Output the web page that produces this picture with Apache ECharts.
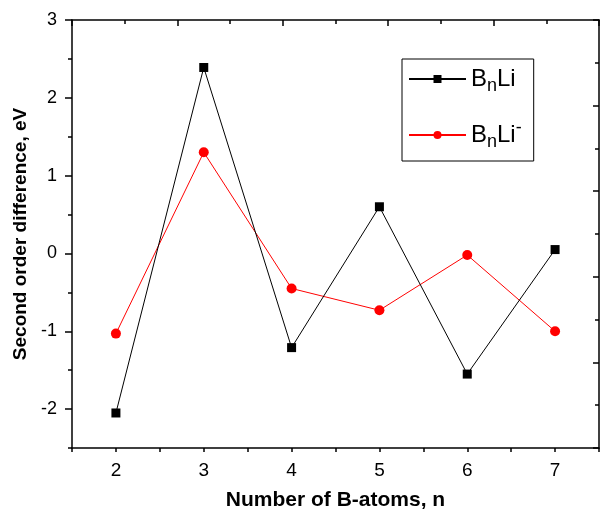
<!DOCTYPE html>
<html>
<head>
<meta charset="utf-8">
<script src="https://cdn.jsdelivr.net/npm/echarts@6/dist/echarts.min.js"></script>
<style>
  html, body { margin: 0; padding: 0; background: #fff; }
  #chart { width: 600px; height: 509px; }
</style>
</head>
<body>
<div id="chart"></div>
<script>
// data
const atoms = [2, 3, 4, 5, 6, 7];
const neutral = [-2.05, 2.39, -1.21, 0.6, -1.55, 0.05];
const anion = [-1.03, 1.3, -0.45, -0.73, -0.02, -1.0];
const xLabels = [2, 3, 4, 5, 6, 7];
const yLabels = [-2, -1, 0, 1, 2, 3];

const font = 'Liberation Sans, Arial, Helvetica, sans-serif';
const black = '#000';

const pairs = (ys) => atoms.map((n, i) => [n, ys[i]]);

const chart = echarts.init(document.getElementById('chart'));

const option = {
    animation: false,
    textStyle: { fontFamily: font },
    grid: { left: 72, right: 1, top: 20, bottom: 61, outerBoundsMode: 'none', containLabel: false },
    legend: {
        orient: 'vertical',
        left: 402,
        top: 59,
        width: 130,
        padding: [8, 12, 10, 6],
        itemGap: 24,
        itemWidth: 57,
        itemHeight: 10,
        borderColor: black,
        borderWidth: 1,
        data: ['neutral', 'anion'],
        formatter: (name) => name === 'neutral' ? 'B{sub|n}Li' : 'B{sub|n}Li{sup|-}',
        textStyle: {
            fontSize: 24,
            color: black,
            fontFamily: font,
            rich: {
                sub: { fontSize: 18, fontFamily: font, color: black, padding: [14, 0, 0, 0] },
                sup: { fontSize: 18, fontFamily: font, color: black, padding: [0, 0, 14, 0] }
            }
        }
    },
    xAxis: [
        {
            type: 'value',
            min: 1.5,
            max: 7.5,
            interval: 0.5,
            position: 'bottom',
            name: 'Number of B-atoms, n',
            nameLocation: 'middle',
            nameGap: 42,
            nameTextStyle: { fontSize: 21, fontWeight: 'bold', color: black, fontFamily: font },
            axisLine: { onZero: false, lineStyle: { color: black, width: 1.5 } },
            axisTick: { length: 4, lineStyle: { color: black, width: 1.5 } },
            axisLabel: { customValues: xLabels, fontSize: 19, color: black, margin: 13 },
            splitLine: { show: false }
        },
        {
            type: 'value',
            min: 0,
            max: 5,
            interval: 1,
            position: 'top',
            axisLine: { onZero: false, lineStyle: { color: black, width: 1.5 } },
            axisTick: { inside: true, length: 6, lineStyle: { color: black, width: 1.5 } },
            minorTick: { show: true, splitNumber: 2, length: 4, lineStyle: { color: black, width: 1.5 } },
            axisLabel: { show: false },
            splitLine: { show: false }
        }
    ],
    yAxis: [
        {
            type: 'value',
            min: -2.5,
            max: 3,
            interval: 0.5,
            position: 'left',
            name: 'Second order difference, eV',
            nameLocation: 'middle',
            nameGap: 39,
            nameTextStyle: { fontSize: 19, fontWeight: 'bold', color: black, fontFamily: font },
            axisLine: { onZero: false, lineStyle: { color: black, width: 1.5 } },
            axisTick: { customValues: yLabels, length: 7, lineStyle: { color: black, width: 1.5 } },
            axisLabel: { customValues: yLabels, fontSize: 18, color: black, margin: 15 },
            splitLine: { show: false }
        },
        {
            type: 'value',
            min: 0,
            max: 5,
            interval: 1,
            position: 'right',
            axisLine: { onZero: false, lineStyle: { color: black, width: 1.5 } },
            axisTick: { inside: true, length: 6, lineStyle: { color: black, width: 1.5 } },
            minorTick: { show: true, splitNumber: 2, length: 4, lineStyle: { color: black, width: 1.5 } },
            axisLabel: { show: false },
            splitLine: { show: false }
        },
        {
            type: 'value',
            min: -2.5,
            max: 3,
            interval: 0.5,
            position: 'left',
            axisLine: { show: false },
            axisTick: { length: 4, lineStyle: { color: black, width: 1.5 } },
            axisLabel: { show: false },
            splitLine: { show: false }
        }
    ],
    series: [
        {
            name: 'neutral',
            type: 'line',
            data: pairs(neutral),
            symbol: 'rect',
            symbolSize: 9,
            itemStyle: { color: black },
            lineStyle: { color: black, width: 1 },
            z: 3
        },
        {
            name: 'anion',
            type: 'line',
            data: pairs(anion),
            symbol: 'circle',
            symbolSize: 10,
            itemStyle: { color: '#ff0000' },
            lineStyle: { color: '#ff0000', width: 1 },
            z: 2
        }
    ]
};

chart.setOption(option);
</script>
</body>
</html>
